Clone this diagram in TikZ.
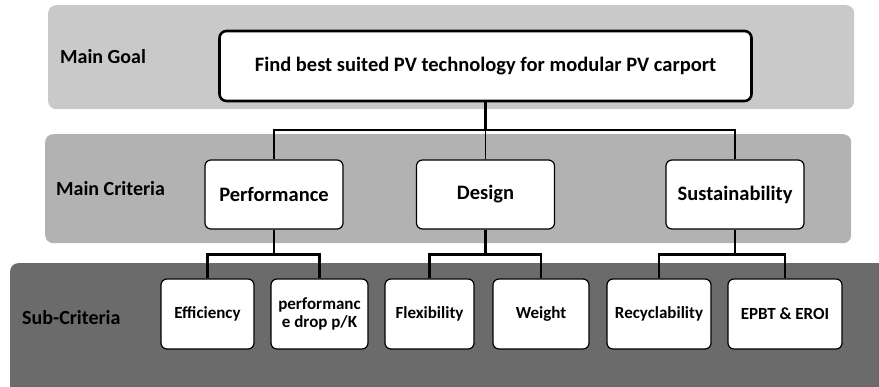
\documentclass[tikz,border=0pt]{standalone}
\usepackage{fontspec}
\setmainfont{Carlito}
\usetikzlibrary{positioning}

\begin{document}
\begin{tikzpicture}[
  x=1pt, y=-1pt,
  band/.style={rounded corners=8pt, inner sep=0pt, anchor=north west},
  bandlabel/.style={anchor=west, inner sep=0pt, font=\bfseries\fontsize{20}{24}\selectfont},
  goalbox/.style={draw, line width=2.6pt, rounded corners=7pt, fill=white, minimum width=532pt, minimum height=70pt, font=\bfseries\fontsize{20.5}{24}\selectfont},
  critbox/.style={draw, line width=1.2pt, rounded corners=6pt, fill=white, minimum width=138pt, minimum height=69pt, font=\bfseries\fontsize{20.5}{24}\selectfont},
  subbox/.style={draw, line width=1.2pt, rounded corners=6pt, fill=white, minimum height=70pt, align=center, font=\bfseries\fontsize{17}{18}\selectfont},
  conn/.style={line width=2.4pt},
  thinconn/.style={line width=1.2pt}
]
\useasboundingbox (0,0) rectangle (879,387);
\clip (0,0) rectangle (879,387);
% layer bands
\node[band, fill=gray!42, minimum width=806pt, minimum height=104pt] (goalband) at (48,5) {};
\node[band, fill=gray!60, minimum width=806pt, minimum height=109pt] (critband) at (45,134) {};
\node[band, fill=black!58, minimum width=890pt, minimum height=140pt] (subband) at (10,263) {};
\node[bandlabel] (goallab) at (60,57) {Main Goal};
\node[bandlabel] (critlab) at (56,189) {Main Criteria};
\node[bandlabel] (sublab) at (22,318) {Sub-Criteria};
% goal and main criteria
\node[goalbox] (goal) at (485.5,66) {Find best suited PV technology for modular PV carport};
\node[critbox] (perf) at (274,194.5) {Performance};
\node[critbox] (design) at (485.5,194.5) {Design};
\node[critbox] (sust) at (735,194.5) {Sustainability};
% sub-criteria
\node[subbox, minimum width=93pt] (eff) at (207.5,314) {Efficiency};
\node[subbox, minimum width=97pt] (drop) at (319.5,314) {performanc\\e drop p/K};
\node[subbox, minimum width=89pt] (flex) at (429.5,314) {Flexibility};
\node[subbox, minimum width=96pt] (weight) at (541,314) {Weight};
\node[subbox, minimum width=104pt] (recyc) at (659,314) {Recyclability};
\node[subbox, minimum width=114pt] (epbt) at (785,314) {EPBT \& EROI};
% connectors
\draw[conn] (goal.south) -- ++(0,28) coordinate (top);
\draw[conn] (perf.north) -- (perf.north |- top) -- (sust.north |- top) -- (sust.north);
\draw[thinconn] (design.north) -- (design.north |- top);
\draw[conn] (perf.south) -- ++(0,25) coordinate (perffork);
\draw[conn] (eff.north) |- (perffork) -| (drop.north);
\draw[conn] (design.south) -- ++(0,25) coordinate (designfork);
\draw[conn] (flex.north) |- (designfork) -| (weight.north);
\draw[conn] (sust.south) -- ++(0,25) coordinate (sustfork);
\draw[conn] (recyc.north) |- (sustfork) -| (epbt.north);
\end{tikzpicture}
\end{document}
